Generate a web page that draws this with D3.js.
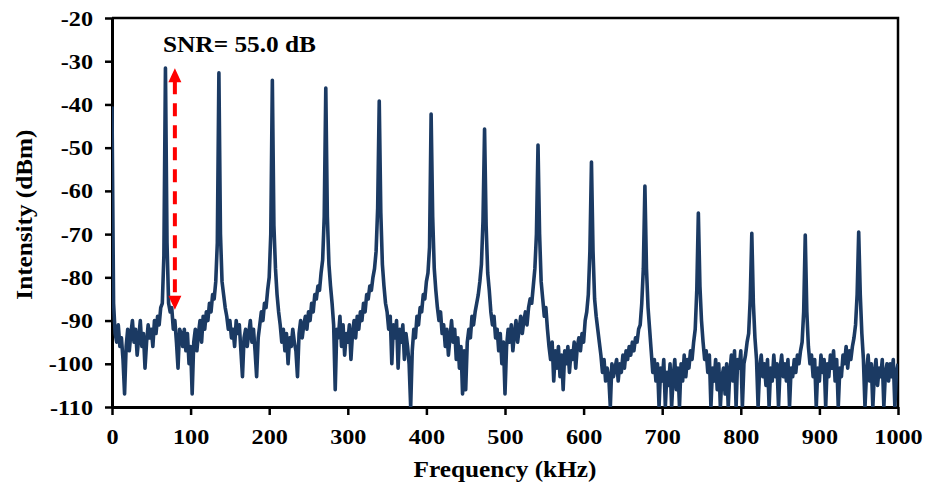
<!DOCTYPE html>
<html lang="en">
<head>
  <meta charset="UTF-8">
  <title>RF spectrum</title>
  <script src="https://d3js.org/d3.v7.min.js"></script>
  <style>
    body { margin: 0; background: #fff; }
    text { font-family: "Liberation Serif", "Times New Roman", serif; font-weight: bold; fill: #000; }
  </style>
</head>
<body>
<script>
  var freqStep = 2;
  var intensity = [
    -40.5, -86, -93, -95, -91, -96, -94, -99, -107, -96, -92, -97, -93, -90, -95, -92, -98, -94, -90, -96, -93, -101, -95, -91, -94,
    -92, -96, -90, -93, -89, -91, -87, -86, -75, -31.6, -72, -86, -88, -87, -92, -90, -95, -101, -92, -93, -96, -92, -97, -93, -100,
    -96, -107, -95, -92, -97, -93, -90, -95, -89, -92, -88, -90, -86, -88, -84, -85, -81, -72, -32.7, -70, -81, -84, -87, -89, -92,
    -90, -94, -92, -96, -90, -93, -91, -97, -103, -94, -92, -96, -93, -90, -95, -92, -97, -103, -94, -91, -88, -90, -86, -87, -83,
    -80, -70, -34.4, -68, -78, -84, -88, -91, -95, -92, -97, -93, -100, -94, -96, -92, -95, -97, -103, -93, -90, -94, -91, -89, -92,
    -88, -90, -86, -88, -84, -85, -82, -83, -79, -76, -66, -36.2, -66, -77, -82, -86, -91, -106, -92, -94, -89, -96, -91, -98, -93,
    -95, -91, -99, -93, -90, -94, -89, -92, -88, -90, -86, -88, -84, -85, -82, -83, -80, -78, -74, -64, -39.2, -65, -77, -82, -86,
    -88, -92, -89, -100, -91, -94, -90, -101, -92, -95, -91, -99, -93, -96, -100, -110, -97, -92, -94, -89, -91, -87, -88, -84, -85,
    -81, -79, -73, -42.2, -66, -78, -83, -87, -90, -88, -93, -91, -96, -92, -98, -94, -90, -95, -92, -99, -94, -101, -96, -107, -97,
    -106, -95, -92, -94, -89, -91, -88, -86, -84, -81, -77, -67, -45.7, -68, -79, -83, -88, -91, -89, -94, -92, -97, -93, -100, -95,
    -107, -96, -92, -95, -91, -97, -93, -90, -95, -92, -89, -93, -90, -88, -91, -87, -85, -86, -82, -78, -70, -49.4, -70, -81, -85,
    -89, -87, -92, -96, -99, -95, -104, -97, -101, -96, -103, -98, -106, -97, -100, -96, -102, -97, -99, -95, -101, -96, -94, -97, -93,
    -95, -90, -88, -84, -74, -53.3, -74, -85, -89, -92, -95, -98, -102, -99, -104, -101, -103, -110, -100, -103, -101, -99, -104, -100, -102,
    -98, -101, -97, -99, -96, -98, -95, -97, -94, -95, -92, -91, -86, -78, -58.9, -78, -87, -92, -97, -102, -99, -104, -100, -110, -101,
    -104, -99, -110, -102, -105, -100, -110, -103, -99, -106, -101, -110, -100, -104, -98, -103, -99, -101, -97, -99, -95, -92, -83, -65.1, -82,
    -90, -95, -99, -97, -102, -98, -110, -101, -104, -99, -106, -100, -110, -103, -101, -107, -100, -110, -102, -98, -104, -97, -110, -99, -101,
    -97, -110, -100, -98, -95, -93, -85, -69.8, -86, -94, -99, -110, -101, -98, -103, -100, -105, -99, -110, -101, -104, -98, -103, -100, -110,
    -101, -98, -103, -100, -104, -99, -110, -101, -103, -99, -102, -98, -100, -97, -95, -88, -70.2, -88, -96, -100, -98, -103, -99, -110, -101,
    -104, -98, -102, -99, -110, -100, -103, -98, -101, -97, -104, -99, -110, -101, -103, -98, -100, -96, -101, -97, -99, -96, -94, -91, -84,
    -69.5, -84, -93, -99, -110, -102, -98, -104, -100, -110, -102, -99, -105, -101, -103, -99, -110, -102, -100, -104, -100, -103, -99, -110, -102,
    -100
  ];
  var xTicks = [0, 100, 200, 300, 400, 500, 600, 700, 800, 900, 1000];
  var yTicks = [-20, -30, -40, -50, -60, -70, -80, -90, -100, -110];
  var snrLabel = "SNR= 55.0 dB";
  var snrFreq = 80, snrTop = -31.6, snrBottom = -87.5;

  var W = 938, H = 486;
  var m = { left: 112, right: 40, top: 18, bottom: 79 };
  var navy = "#1b3a63", red = "#ff0000";

  var svg = d3.select("body").append("svg")
    .attr("width", W)
    .attr("height", H);

  var x = d3.scaleLinear().domain([0, 1000]).range([m.left, W - m.right]);
  var y = d3.scaleLinear().domain([-110, -20]).range([H - m.bottom, m.top]);

  // the source figure's lettering is a little wider than Liberation Serif
  function widen(sel, k) {
    sel.each(function () {
      var len = this.getComputedTextLength();
      d3.select(this).attr("textLength", len * k).attr("lengthAdjust", "spacingAndGlyphs");
    });
  }

  svg.append("defs").append("clipPath").attr("id", "plot")
    .append("rect")
    .attr("x", x(0)).attr("y", y(-20) - 4)
    .attr("width", x(1000) - x(0)).attr("height", y(-110) - y(-20) + 4);

  // top and right frame
  svg.append("path")
    .attr("d", "M" + x(0) + "," + y(-20) + "H" + x(1000) + "V" + y(-110))
    .style("fill", "none")
    .style("stroke", "#000")
    .style("stroke-width", 2.5);

  var yAxis = svg.append("g")
    .attr("transform", "translate(" + x(0) + ",0)")
    .call(d3.axisLeft(y).tickValues(yTicks).tickFormat(String).tickSize(7).tickSizeOuter(0).tickPadding(12));

  var xAxis = svg.append("g")
    .attr("transform", "translate(0," + y(-110) + ")")
    .call(d3.axisBottom(x).tickValues(xTicks).tickFormat(String).tickSize(8).tickSizeOuter(0).tickPadding(13));

  [yAxis, xAxis].forEach(function (g) {
    g.select(".domain").style("stroke", "#000").style("stroke-width", 3);
    g.selectAll(".tick line").style("stroke", "#000").style("stroke-width", 2.5);
    g.selectAll(".tick text")
      .attr("fill", null)
      .style("font-family", "'Liberation Serif', 'Times New Roman', serif")
      .style("font-weight", "bold")
      .style("font-size", "22px")
      .style("fill", "#000");
    widen(g.selectAll(".tick text"), 1.1);
  });

  var points = intensity.map(function (v, i) { return [i * freqStep, v]; });

  var line = d3.line()
    .x(function (d) { return x(d[0]); })
    .y(function (d) { return y(d[1]); });

  svg.append("path")
    .datum(points)
    .attr("clip-path", "url(#plot)")
    .attr("d", line)
    .style("fill", "none")
    .style("stroke", navy)
    .style("stroke-width", 3.6)
    .style("stroke-linejoin", "round");

  var xTitle = svg.append("text")
    .attr("x", (x(0) + x(1000)) / 2)
    .attr("y", 477)
    .attr("text-anchor", "middle")
    .style("font-size", "23px")
    .text("Frequency (kHz)");
  xTitle.attr("textLength", 183).attr("lengthAdjust", "spacingAndGlyphs");

  var yTitle = svg.append("text")
    .attr("transform", "translate(32," + y(-65.5) + ") rotate(-90)")
    .attr("text-anchor", "middle")
    .style("font-size", "23px")
    .text("Intensity (dBm)");
  yTitle.attr("textLength", 170).attr("lengthAdjust", "spacingAndGlyphs");

  // SNR annotation
  var ax = x(snrFreq), ay1 = y(snrTop), ay2 = y(snrBottom);
  svg.append("line")
    .attr("x1", ax).attr("x2", ax)
    .attr("y1", ay1 + 13).attr("y2", ay2 - 13)
    .style("stroke", red)
    .style("stroke-width", 4)
    .style("stroke-dasharray", "13,9");
  svg.append("path")
    .attr("d", "M" + ax + "," + ay1 + "l-6.5,14h13z")
    .style("fill", red);
  svg.append("path")
    .attr("d", "M" + ax + "," + ay2 + "l-6.5,-14h13z")
    .style("fill", red);

  svg.append("text")
    .attr("x", 163)
    .attr("y", 52)
    .style("font-size", "23px")
    .attr("textLength", 153)
    .attr("lengthAdjust", "spacingAndGlyphs")
    .text(snrLabel);
</script>
</body>
</html>
